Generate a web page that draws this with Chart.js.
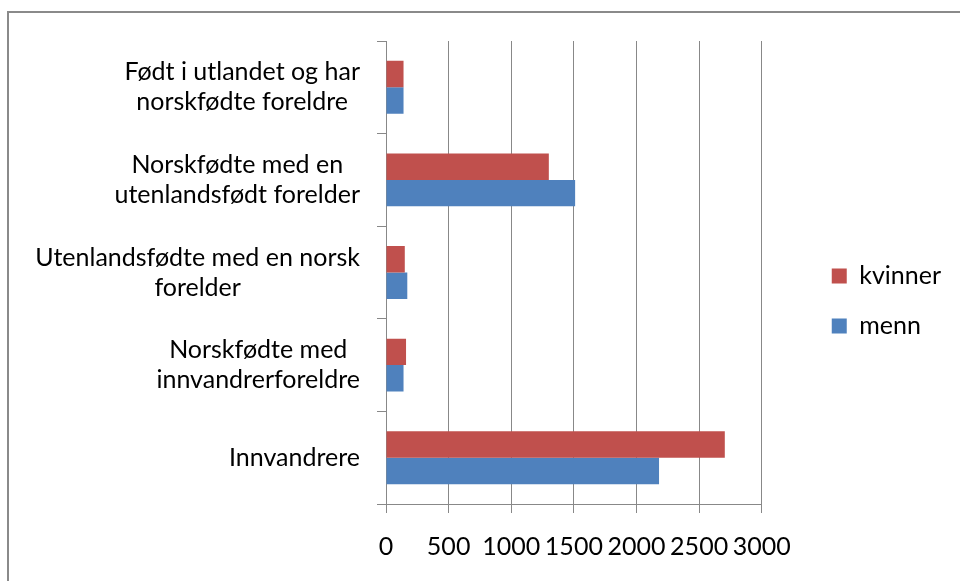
<!DOCTYPE html>
<html>
<head>
<meta charset="utf-8">
<script src="https://cdn.jsdelivr.net/npm/chart.js@4/dist/chart.umd.min.js"></script>
<style>
  html, body { margin: 0; padding: 0; background: #fff; overflow: hidden; }
  #frame { position: absolute; left: 7px; top: 11px; width: 1000px; height: 1000px; border: 2px solid #8a8a8a; box-sizing: border-box; }
  #c { position: absolute; left: 0; top: 0; }
</style>
</head>
<body>
<div id="frame"></div>
<canvas id="c" width="960" height="581"></canvas>
<script>
const categories = [
  ["Født i utlandet og har", "norskfødte foreldre"],
  ["Norskfødte med en", "utenlandsfødt forelder"],
  ["Utenlandsfødte med en norsk", "forelder"],
  ["Norskfødte med", "innvandrerforeldre"],
  ["Innvandrere"]
];
const seriesNames = ["kvinner", "menn"];
const kvinner = [140, 1300, 150, 160, 2705];
const menn = [140, 1510, 170, 140, 2180];
const xMin = 0, xMax = 3000, xStep = 500;

const FONT = "Lato, 'Noto Sans', sans-serif";
const FONT_SIZE = 25;
const GRID = '#888888';

const centeredLabels = {
  id: 'centeredLabels',
  afterDraw(chart) {
    const y = chart.scales.y;
    const ctx = chart.ctx;
    const right = chart.chartArea.left - 26;
    const lh = 30;
    ctx.save();
    ctx.font = FONT_SIZE + 'px ' + FONT;
    ctx.fillStyle = '#000';
    ctx.textAlign = 'center';
    ctx.textBaseline = 'middle';
    categories.forEach((lines, i) => {
      const w = Math.max(...lines.map(l => ctx.measureText(l).width));
      const cx = right - w / 2;
      const cy = y.getPixelForValue(i);
      lines.forEach((l, j) => {
        ctx.fillText(l, cx, cy + (j - (lines.length - 1) / 2) * lh);
      });
    });
    ctx.restore();
  }
};

const shiftLegend = {
  id: 'shiftLegend',
  afterLayout(chart) {
    const lg = chart.legend;
    lg.left = chart.chartArea.right + 45;
    lg.right = chart.width;
    lg.width = lg.right - lg.left;
    lg.top -= 10;
    lg.bottom -= 10;
  }
};

new Chart(document.getElementById('c'), {
  type: 'bar',
  data: {
    labels: categories.map(c => c.join(' ')),
    datasets: [
      { label: seriesNames[0], data: kvinner, backgroundColor: '#C0504D', borderWidth: 0 },
      { label: seriesNames[1], data: menn, backgroundColor: '#4F81BD', borderWidth: 0 }
    ]
  },
  options: {
    indexAxis: 'y',
    responsive: false,
    animation: false,
    devicePixelRatio: 1,
    categoryPercentage: 0.571,
    barPercentage: 1,
    layout: { padding: { left: 377, top: 41, bottom: 0, right: 70 } },
    scales: {
      x: {
        min: xMin, max: xMax,
        ticks: {
          stepSize: xStep, color: '#000', font: { family: FONT, size: FONT_SIZE }, padding: 19, maxRotation: 0,
          callback: v => String(v)
        },
        grid: { color: GRID, lineWidth: 1, tickLength: 9, drawTicks: true },
        border: { display: true, color: GRID, width: 1 }
      },
      y: {
        offset: true,
        ticks: { display: false },
        grid: { offset: true, drawOnChartArea: false, drawTicks: true, tickLength: 9, color: GRID },
        border: { display: true, color: GRID, width: 1 }
      }
    },
    plugins: {
      tooltip: { enabled: false },
      legend: {
        position: 'right',
        align: 'center',
        labels: {
          boxWidth: 15, boxHeight: 15, padding: 25,
          color: '#000',
          font: { family: FONT, size: FONT_SIZE }
        }
      }
    }
  },
  plugins: [centeredLabels, shiftLegend]
});
</script>
</body>
</html>
